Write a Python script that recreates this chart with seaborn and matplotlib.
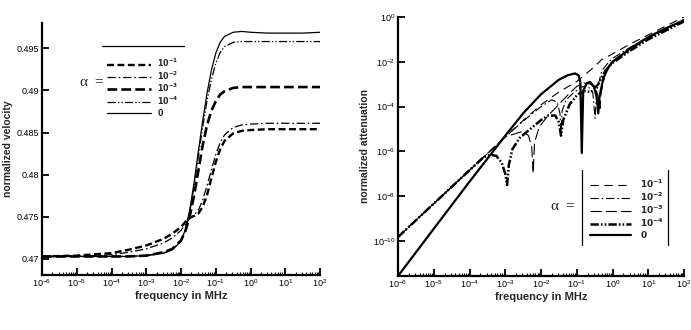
import numpy as np
import pandas as pd
import matplotlib
matplotlib.use("Agg")
import matplotlib.pyplot as plt
from matplotlib.lines import Line2D
from matplotlib.ticker import FixedLocator, NullLocator, LogLocator, FuncFormatter
import seaborn as sns

# ---------------- data (log10 of frequency in MHz) ----------------
alpha_labels = ["10^{-1}", "10^{-2}", "10^{-3}", "10^{-4}", "0"]

vel_logf = [-6, -5, -4, -3.5, -3, -2.5, -2.25, -2.0, -1.875, -1.75, -1.625, -1.5,
            -1.375, -1.25, -1.125, -1.0, -0.875, -0.75, -0.5, -0.25, 0, 0.5, 1, 1.5, 2]
vel_a1 = [.4703, .4704, .4707, .4711, .4716, .4724, .4730, .4738, .4744, .4749, .4751, .4754,
          .4762, .4776, .4796, .4815, .4830, .4840, .4849, .4852, .4853, .4854, .4854, .4854, .4854]
vel_a2 = [.4703, .4703, .4705, .4708, .4712, .4719, .4725, .4734, .4741, .4748, .4752, .4758,
          .4770, .4787, .4806, .4824, .4838, .4847, .4856, .4859, .4860, .4861, .4861, .4861, .4861]
vel_a3 = [.4703, .4703, .4703, .4703, .4704, .4708, .4712, .4722, .4733, .4750, .4775, .4805,
          .4835, .4859, .4876, .4887, .4895, .4899, .4903, .4904, .4904, .4904, .4904, .4904, .4904]
vel_a4 = [.4703, .4703, .4703, .4703, .4704, .4707, .4711, .4721, .4734, .4755, .4786, .4822,
          .4857, .4888, .4913, .4932, .4945, .4952, .4957, .4958, .4958, .4958, .4958, .4958, .4958]
vel_a0 = [.4703, .4703, .4703, .4703, .4704, .4707, .4711, .4721, .4735, .4758, .4790, .4828,
          .4864, .4897, .4924, .4944, .4957, .4964, .4969, .4970, .4969, .4968, .4968, .4968, .4969]

# attenuation: log10 frequency and log10 attenuation per curve
att1_logf = [-6, -5, -4, -3, -2.5, -2, -1.5, -1, -0.6, -0.3, 0, 0.5, 1, 1.5, 2]
att1_loga = [-9.82, -8.33, -6.84, -5.35, -4.62, -3.92, -3.35, -2.88, -2.35, -1.9, -1.65, -1.2, -0.8, -0.4, 0.0]

att2_logf = [-6, -5, -4, -3, -2.5, -2, -1.7, -1.55, -1.47, -1.44, -1.41, -1.3, -1.1, -0.9, -0.7,
             -0.55, -0.49, -0.44, -0.3, -0.1, 0, 0.5, 1, 1.5, 2]
att2_loga = [-9.82, -8.33, -6.84, -5.35, -4.65, -4.0, -3.7, -3.8, -4.3, -5.2, -4.2, -3.7, -3.4, -3.15, -3.05,
             -3.4, -4.52, -3.3, -2.4, -2.0, -1.85, -1.35, -0.9, -0.5, -0.1]

att3_logf = [-6, -5, -4, -3, -2.5, -2.35, -2.26, -2.22, -2.18, -2.05, -1.8, -1.5, -1.2, -1.0, -0.8,
             -0.6, -0.45, -0.38, -0.35, -0.32, -0.2, 0, 0.5, 1, 1.5, 2]
att3_loga = [-9.82, -8.33, -6.84, -5.35, -5.1, -5.3, -5.8, -6.98, -5.6, -4.9, -4.4, -3.9, -3.4, -3.1, -2.95,
             -3.0, -3.3, -3.7, -4.08, -3.4, -2.5, -2.0, -1.45, -0.95, -0.55, -0.15]

att4_logf = [-6, -5, -4, -3.6, -3.4, -3.25, -3.1, -3.0, -2.95, -2.9, -2.8, -2.6, -2.3, -2.0, -1.8,
             -1.6, -1.5, -1.44, -1.38, -1.2, -1.0, -0.8, -0.6, -0.4, -0.2, 0, 0.5, 1, 1.5, 2]
att4_loga = [-9.82, -8.33, -6.84, -6.25, -6.15, -6.2, -6.5, -7.0, -7.5, -6.6, -5.9, -5.4, -5.0, -4.6, -4.4,
             -4.4, -4.7, -5.3, -4.6, -3.9, -3.5, -3.3, -3.35, -3.0, -2.4, -2.05, -1.5, -1.0, -0.6, -0.2]

att0_logf = [-6, -5, -4, -3, -2.5, -2, -1.5, -1.25, -1.05, -0.95, -0.9, -0.86, -0.82, -0.72, -0.63,
             -0.52, -0.44, -0.4, -0.36, -0.25, -0.1, 0, 0.5, 1, 1.5, 2]
att0_loga = [-11.56, -9.45, -7.35, -5.3, -4.3, -3.45, -2.8, -2.6, -2.52, -2.6, -2.9, -6.07, -3.3, -2.95, -2.9,
             -3.1, -3.6, -4.3, -3.5, -2.7, -2.2, -2.0, -1.4, -0.9, -0.5, -0.15]

x_tick_exp = [-6, -5, -4, -3, -2, -1, 0, 1, 2]
vel_ticks = [0.47, 0.475, 0.48, 0.485, 0.49, 0.495]
att_tick_exp = [0, -2, -4, -6, -8, -10]

# ---------------- styles ----------------
left_styles = [dict(lw=1.7, ls=(0, (5, 2.5))),
               dict(lw=0.9, ls=(0, (6, 2, 1.2, 2))),
               dict(lw=1.9, ls=(0, (7, 3))),
               dict(lw=0.9, ls=(0, (6, 1.5, 1, 1.5, 1, 1.5))),
               dict(lw=0.9, ls="-")]
right_styles = [dict(lw=0.8, ls=(0, (6, 4))),
                dict(lw=0.8, ls=(0, (6, 2, 1.2, 2))),
                dict(lw=0.8, ls=(0, (8, 3))),
                dict(lw=1.8, ls=(0, (6, 1.5, 1.2, 1.5, 1.2, 1.5))),
                dict(lw=1.6, ls="-")]

sns.set_theme(style="ticks")
plt.rcParams["font.family"] = ["Liberation Sans", "DejaVu Sans"]
plt.rcParams["mathtext.default"] = "regular"
plt.rcParams["lines.scale_dashes"] = False

fig = plt.figure(figsize=(6.91, 3.30), dpi=100)
axL = fig.add_axes([0.0608, 0.1667, 0.4023, 0.7636])
axR = fig.add_axes([0.576, 0.1636, 0.4139, 0.785])

# left plot
vel_series = [vel_a1, vel_a2, vel_a3, vel_a4, vel_a0]
freqL = 10.0 ** np.array(vel_logf)
for vals, st in zip(vel_series, left_styles):
    df = pd.DataFrame({"f": freqL, "v": vals})
    sns.lineplot(data=df, x="f", y="v", ax=axL, color="black", linewidth=st["lw"],
                 linestyle=st["ls"], sort=False, estimator=None)

# right plot
att_series = [(att1_logf, att1_loga), (att2_logf, att2_loga), (att3_logf, att3_loga),
              (att4_logf, att4_loga), (att0_logf, att0_loga)]
for (lf, la), st in zip(att_series, right_styles):
    df = pd.DataFrame({"f": 10.0 ** np.array(lf), "a": 10.0 ** np.array(la)})
    sns.lineplot(data=df, x="f", y="a", ax=axR, color="black", linewidth=st["lw"],
                 linestyle=st["ls"], sort=False, estimator=None)

def fmt_pow(v, pos=None):
    e = int(round(np.log10(v)))
    return r"$10^{%d}$" % e

for ax in (axL, axR):
    ax.set_xscale("log")
    ax.set_xlim(1e-6, 1e2)
    ax.xaxis.set_major_locator(FixedLocator([10.0 ** e for e in x_tick_exp]))
    ax.xaxis.set_major_formatter(FuncFormatter(fmt_pow))
    ax.xaxis.set_minor_locator(LogLocator(base=10, subs=np.arange(2, 10), numticks=100))
    ax.xaxis.set_minor_formatter(FuncFormatter(lambda v, p: ""))
    for s in ("top", "right"):
        ax.spines[s].set_visible(False)
    for s in ("left", "bottom"):
        ax.spines[s].set_linewidth(1.6)
        ax.spines[s].set_color("black")
    ax.tick_params(which="major", direction="in", length=5, width=1.3, colors="black",
                   labelsize=6.5, pad=2)
    ax.tick_params(which="minor", direction="in", length=2.5, width=0.8, colors="black")
    ax.set_xlabel("frequency in MHz", fontsize=8, fontweight="bold", labelpad=1)
    ax.grid(False)

axL.set_ylim(0.4681, 0.498)
axL.yaxis.set_major_locator(FixedLocator(vel_ticks))
axL.yaxis.set_major_formatter(FuncFormatter(lambda v, p: ("%.3f" % v).rstrip("0")))
axL.yaxis.set_minor_locator(NullLocator())
axL.set_ylabel("normalized velocity", fontsize=7.5, fontweight="bold", labelpad=3)

axR.set_yscale("log")
axR.set_ylim(10 ** -11.56, 1.0)
axR.yaxis.set_major_locator(FixedLocator([10.0 ** e for e in att_tick_exp]))
axR.yaxis.set_major_formatter(FuncFormatter(fmt_pow))
axR.yaxis.set_minor_locator(NullLocator())
axR.set_ylabel("normalized attenuation", fontsize=7.5, fontweight="bold", labelpad=2)

# legends
labels = [r"$\mathbf{%s}$" % l if l != "0" else r"$\mathbf{0}$" for l in alpha_labels]
hL = axL.get_lines()[:5]
legL = axL.legend(hL, labels, loc="upper left", bbox_to_anchor=(107 / 691, 1 - 57 / 330),
                  bbox_transform=fig.transFigure, frameon=False, fontsize=5.8,
                  handlelength=5.4, handletextpad=0.8, labelspacing=0.0,
                  borderpad=0, borderaxespad=0)
axL.add_line(Line2D([60 / 278, 142 / 278], [0.91, 0.91], transform=axL.transAxes,
                    color="black", lw=0.9))
fig.text(92 / 691, 1 - 82 / 330, r"$\alpha\ =$", ha="center", va="center",
         fontsize=11, family=["Liberation Serif", "DejaVu Serif"])

hR = axR.get_lines()[:5]
legR = axR.legend(hR, labels, loc="upper left", bbox_to_anchor=(590 / 691, 1 - 178 / 330),
                  bbox_transform=fig.transFigure, frameon=False, fontsize=6.5,
                  handlelength=4.5, handletextpad=1.0, labelspacing=0.05,
                  borderpad=0, borderaxespad=0)
for xb in (0.643, 0.944):
    axR.add_line(Line2D([xb, xb], [0.12, 0.409], transform=axR.transAxes, color="black", lw=0.9))
fig.text(563 / 691, 1 - 207 / 330, r"$\alpha\ =$", ha="center", va="center",
         fontsize=11, family=["Liberation Serif", "DejaVu Serif"])

fig.savefig("out.png", dpi=100)
